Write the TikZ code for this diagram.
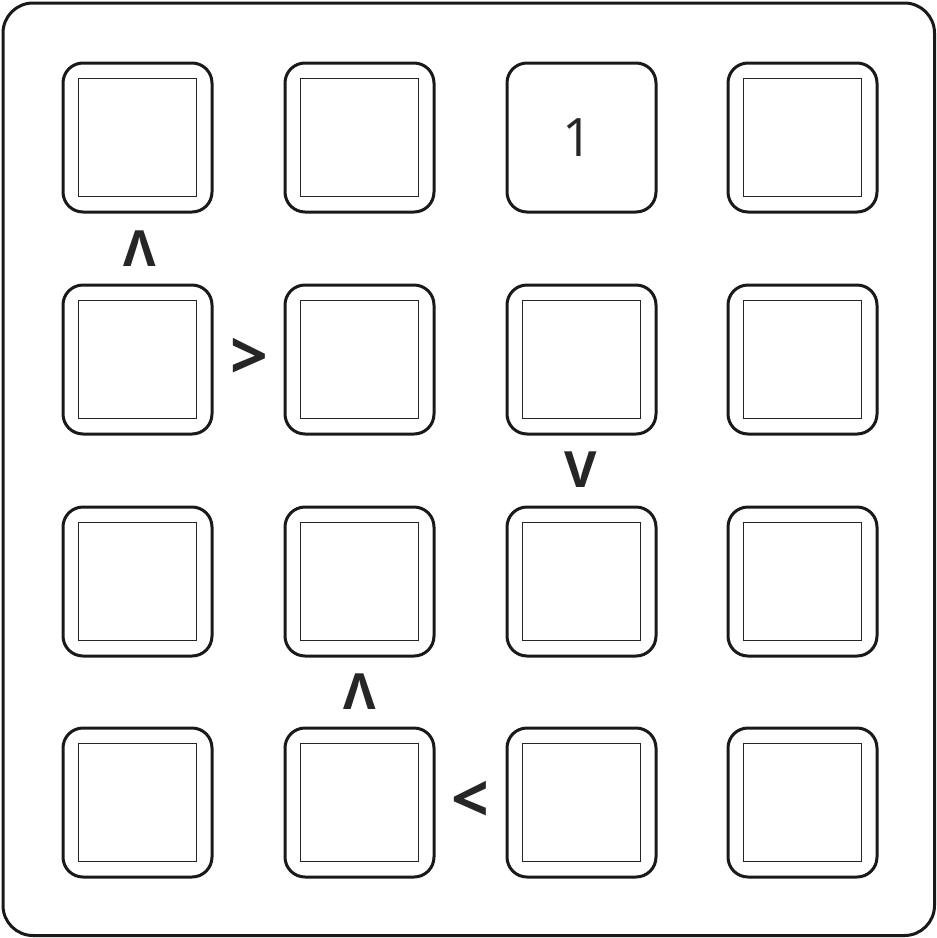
\documentclass[tikz,border=0pt]{standalone}
\usepackage{fontspec}
\setmainfont{Open Sans}
\begin{document}
\begin{tikzpicture}[x=1pt,y=-1pt,
  keybox/.style={draw=black!90, line width=3pt, rounded corners=20pt, minimum width=149pt, minimum height=149pt, inner sep=0pt, fill=white},
  innersq/.style={draw=black!85, line width=1.5pt, minimum width=118pt, minimum height=118pt, inner sep=0pt},
  chev/.style={font=\fontsize{50}{50}\bfseries\selectfont, text=black!85, inner sep=0pt},
  ltgt/.style={font=\fontsize{66}{66}\bfseries\selectfont, text=black!85, inner sep=0pt},
  numtxt/.style={font=\fontsize{53}{53}\selectfont, text=black!85}]
\useasboundingbox (0,0) rectangle (937,938);
\draw[line width=3pt, black!90, rounded corners=30pt] (3,3) rectangle (934.5,935.5);
\foreach \c/\x in {1/137.5,2/359.5,3/581.5,4/802.5}{
  \foreach \r/\y in {1/137.5,2/359.5,3/581.5,4/802.5}{
    \node[keybox] (k\r\c) at (\x,\y) {};
  }
}
\foreach \r/\c in {1/1,1/2,1/4,2/1,2/2,2/3,2/4,3/1,3/2,3/3,3/4,4/1,4/2,4/3,4/4}{
  \node[innersq] (s\r\c) at (k\r\c) {};
}
\node[numtxt] (n1) at (578,138) {1};
\node[chev] (a1) at (140,249) {Λ};
\node[ltgt] (a2) at (249,359) {>};
\node[chev] (a3) at (581,470) {V};
\node[chev] (a4) at (360,692) {Λ};
\node[ltgt] (a5) at (470,802) {<};
\end{tikzpicture}
\end{document}
